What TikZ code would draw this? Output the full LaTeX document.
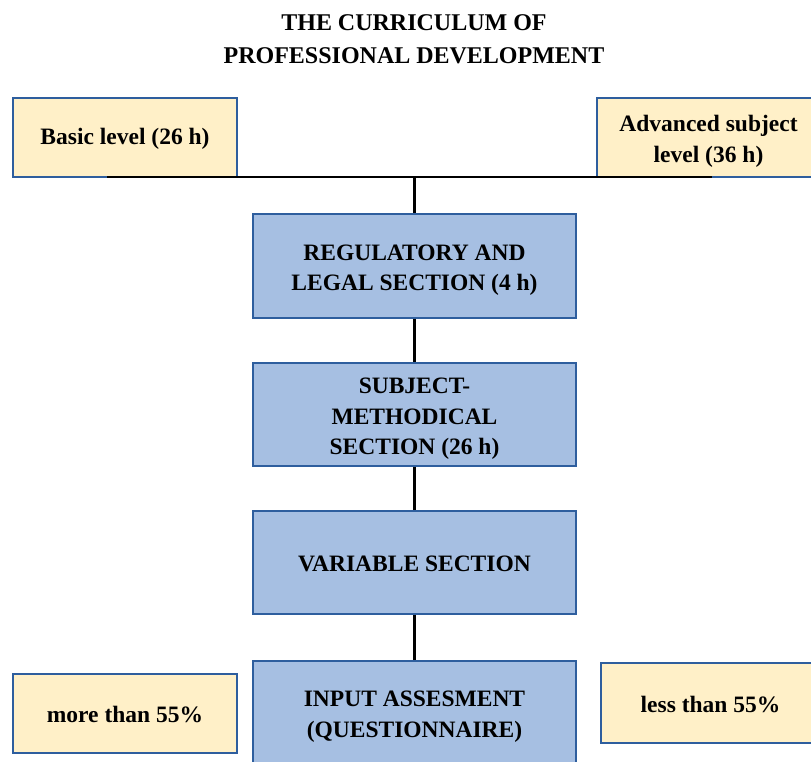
\documentclass[tikz,border=0pt]{standalone}
\usepackage{fontspec}
\setmainfont{Liberation Serif}
\definecolor{boxblue}{HTML}{A6BFE2}
\definecolor{edgeblue}{HTML}{2E5E9E}
\definecolor{cream}{HTML}{FFF0C8}
\newcommand\tpad{\rule{0pt}{24pt}}
\newcommand\spad{\rule{0pt}{19pt}}
\begin{document}
\begin{tikzpicture}[x=1pt,y=-1pt,
  base/.style={draw=edgeblue, line width=1.6pt, inner sep=0pt, align=center,
    font=\fontsize{23.5}{30.5}\selectfont\bfseries},
  level/.style={base, fill=cream},
  section/.style={base, fill=boxblue, minimum width=323pt},
  conn/.style={black, line width=2.2pt}]
\useasboundingbox (0,0) rectangle (811,762);
\clip (0,0) rectangle (811,762);
\node[font=\fontsize{24}{33}\selectfont\bfseries, align=center] (title) at (414,39)
  {THE CURRICULUM OF\\PROFESSIONAL DEVELOPMENT};
\node[level, minimum width=224pt, minimum height=79pt] (basic) at (125,137.5) {\spad Basic level (26 h)};
\node[level, minimum width=223pt, minimum height=79pt] (adv) at (708.5,137.5) {\tpad Advanced subject\\level (36 h)};
\node[section, minimum height=104pt] (reg) at (414.5,266) {\tpad REGULATORY AND\\LEGAL SECTION (4 h)};
\node[section, minimum height=103pt] (subj) at (414.5,414.5) {\tpad SUBJECT-\\METHODICAL\\SECTION (26 h)};
\node[section, minimum height=103pt] (var) at (414.5,562.5) {\spad VARIABLE SECTION};
\node[section, minimum height=103pt] (inp) at (414.5,712.5) {\tpad INPUT ASSESMENT\\(QUESTIONNAIRE)};
\node[level, minimum width=224pt, minimum height=79pt] (more) at (125,713.5) {\spad more than 55\%};
\node[level, minimum width=219pt, minimum height=80pt] (less) at (710.5,703) {\spad less than 55\%};
\coordinate (hl) at (107,177);
\coordinate (hr) at (712,177);
\coordinate (hm) at (414.5,177);
\draw[conn] (hl) -- (hr);
\draw[conn] (hm) -- (reg.north);
\draw[conn] (reg.south) -- (subj.north);
\draw[conn] (subj.south) -- (var.north);
\draw[conn] (var.south) -- (inp.north);
\end{tikzpicture}
\end{document}
